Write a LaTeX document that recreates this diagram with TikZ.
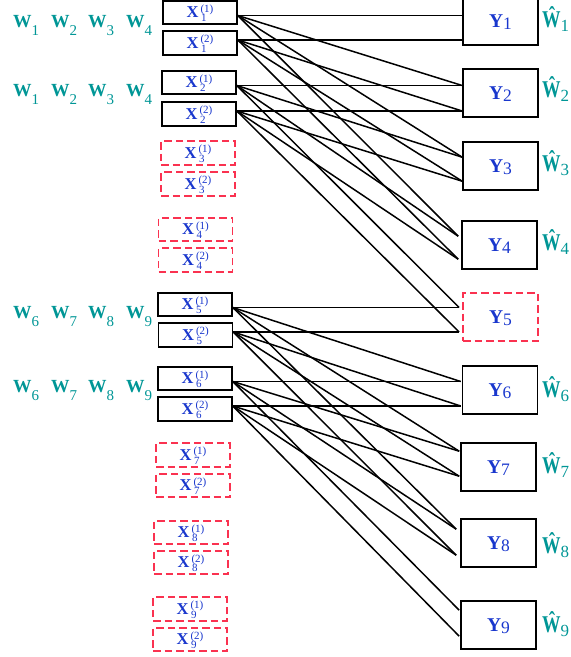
\documentclass[tikz,border=0pt]{standalone}
\usepackage{fontspec}
\usepackage{graphicx}
\setmainfont{Liberation Serif}
\usetikzlibrary{calc}
\definecolor{xblue}{RGB}{25,55,205}
\definecolor{wteal}{RGB}{0,150,150}
\definecolor{dred}{RGB}{250,50,80}
\newcommand\xlab[2]{{\fontsize{16.5}{16.5}\selectfont\bfseries X}\hspace{2pt}\smash{\fontsize{11}{11}\selectfont\rlap{\hspace{0.6pt}\raisebox{-4pt}{#1}}\raisebox{5.5pt}{(#2)}}}
\newcommand\ylab[1]{{\fontsize{19.5}{19.5}\selectfont\bfseries Y}\smash{\raisebox{-2.5pt}{\fontsize{17.5}{17.5}\selectfont #1}}}
\newcommand\wlab[1]{{\fontsize{18.5}{18.5}\selectfont\bfseries W}\smash{\raisebox{-8pt}{\fontsize{15}{15}\selectfont #1}}}
\newcommand\hwlab[1]{\smash{\scalebox{1}[1.3]{\fontsize{18.5}{18.5}\selectfont\bfseries Ŵ}}\smash{\raisebox{-4pt}{\fontsize{17}{17}\selectfont #1}}}
\begin{document}
\begin{tikzpicture}[x=1pt,y=-1pt,
  xbox/.style={draw=black, line width=1.6pt, minimum width=74pt, minimum height=23.5pt, inner sep=0pt, text=xblue},
  xdash/.style={xbox, draw=dred, line width=1.7pt, dash pattern=on 7.5pt off 4pt},
  ybox/.style={draw=black, line width=1.6pt, minimum width=75pt, minimum height=48pt, inner sep=0pt, text=xblue},
  ydash/.style={ybox, draw=dred, line width=1.7pt, dash pattern=on 7.5pt off 4pt},
  wl/.style={anchor=base west, inner sep=0pt, text=wteal},
  link/.style={line width=1.5pt}]
\useasboundingbox (0,0) rectangle (571,657);

% X boxes
\node[xbox]  (X1a) at (200,12.5)  {\xlab{1}{1}};
\node[xbox]  (X1b) at (200,43)    {\xlab{1}{2}};
\node[xbox]  (X2a) at (199,82.5)  {\xlab{2}{1}};
\node[xbox]  (X2b) at (199,114)   {\xlab{2}{2}};
\node[xdash] (X3a) at (198,153)   {\xlab{3}{1}};
\node[xdash] (X3b) at (198,184)   {\xlab{3}{2}};
\node[xdash] (X4a) at (195.5,229.5) {\xlab{4}{1}};
\node[xdash] (X4b) at (195.5,260) {\xlab{4}{2}};
\node[xbox]  (X5a) at (195,304.5) {\xlab{5}{1}};
\node[xbox]  (X5b) at (195.5,335) {\xlab{5}{2}};
\node[xbox]  (X6a) at (195,378.5) {\xlab{6}{1}};
\node[xbox]  (X6b) at (195,409)   {\xlab{6}{2}};
\node[xdash] (X7a) at (193,455)   {\xlab{7}{1}};
\node[xdash] (X7b) at (193,485.5) {\xlab{7}{2}};
\node[xdash] (X8a) at (191,532.5) {\xlab{8}{1}};
\node[xdash] (X8b) at (191,562.5) {\xlab{8}{2}};
\node[xdash] (X9a) at (190,609)   {\xlab{9}{1}};
\node[xdash] (X9b) at (190,639.5) {\xlab{9}{2}};

% Y boxes
\node[ybox]  (Y1) at (500.5,21)  {\ylab{1}};
\node[ybox]  (Y2) at (500.5,93)  {\ylab{2}};
\node[ybox]  (Y3) at (500.5,166) {\ylab{3}};
\node[ybox]  (Y4) at (499.5,245) {\ylab{4}};
\node[ydash] (Y5) at (500.5,317) {\ylab{5}};
\node[ybox]  (Y6) at (500,390)   {\ylab{6}};
\node[ybox]  (Y7) at (498.5,467) {\ylab{7}};
\node[ybox]  (Y8) at (498.5,543) {\ylab{8}};
\node[ybox]  (Y9) at (498.5,625) {\ylab{9}};

% W labels (left)
\foreach \r/\yy/\a/\b/\c/\d in {1/27/1/2/3/4, 2/96/1/2/3/4, 3/318/6/7/8/9, 4/392/6/7/8/9}{
  \node[wl] (w\r a) at (13,\yy)  {\wlab{\a}};
  \node[wl] (w\r b) at (51,\yy)  {\wlab{\b}};
  \node[wl] (w\r c) at (88,\yy)  {\wlab{\c}};
  \node[wl] (w\r d) at (126,\yy) {\wlab{\d}};
}

% hat W labels (right)
\node[wl] (hw1) at (542,27)  {\hwlab{1}};
\node[wl] (hw2) at (542,97)  {\hwlab{2}};
\node[wl] (hw3) at (542,171) {\hwlab{3}};
\node[wl] (hw4) at (542,250) {\hwlab{4}};
\node[wl] (hw6) at (542,397) {\hwlab{6}};
\node[wl] (hw7) at (542,473) {\hwlab{7}};
\node[wl] (hw8) at (542,553) {\hwlab{8}};
\node[wl] (hw9) at (542,632) {\hwlab{9}};

% ports on X boxes
\foreach \i in {1,2,5,6}{
  \coordinate (p\i a) at ($(X\i a.east)+(0,3)$);
  \coordinate (p\i b) at ($(X\i b.east)+(0,-3)$);
}
% ports on Y boxes
\coordinate (Y1u) at (Y1.west |- p1a);
\coordinate (Y1l) at (Y1.west |- p1b);
\coordinate (Y2u) at (Y2.west |- p2a);
\coordinate (Y2l) at (Y2.west |- p2b);
\coordinate (Y3u) at ($(Y3.north west)+(0,16)$);
\coordinate (Y3l) at ($(Y3.north west)+(0,40)$);
\coordinate (Y4u) at ($(Y4.north west)+(-3,16)$);
\coordinate (Y4l) at ($(Y4.north west)+(-3,39)$);
\coordinate (Y5u) at ($(Y5.west |- p5a)+(-3,0)$);
\coordinate (Y5l) at ($(Y5.west |- p5b)+(-3,0)$);
\coordinate (Y6u) at ($(Y6.west |- p6a)+(-1,0)$);
\coordinate (Y6l) at ($(Y6.west |- p6b)+(-1,0)$);
\coordinate (Y7u) at ($(Y7.north west)+(-1,9)$);
\coordinate (Y7l) at ($(Y7.north west)+(-1,34)$);
\coordinate (Y8u) at ($(Y8.north west)+(-4,11)$);
\coordinate (Y8l) at ($(Y8.north west)+(-4,37)$);
\coordinate (Y9u) at ($(Y9.north west)+(-1,10)$);
\coordinate (Y9l) at ($(Y9.north west)+(-1,36)$);

% connectors
\foreach \i/\ja/\jb/\jc/\jd in {1/1/2/3/4, 2/2/3/4/5, 5/5/6/7/8, 6/6/7/8/9}{
  \foreach \s/\t in {a/u, b/l}{
    \draw[link] (p\i\s) -- (Y\ja\t);
    \draw[link] (p\i\s) -- (Y\jb\t);
    \draw[link] (p\i\s) -- (Y\jc\t);
    \draw[link] (p\i\s) -- (Y\jd\t);
  }
}
\end{tikzpicture}
\end{document}
